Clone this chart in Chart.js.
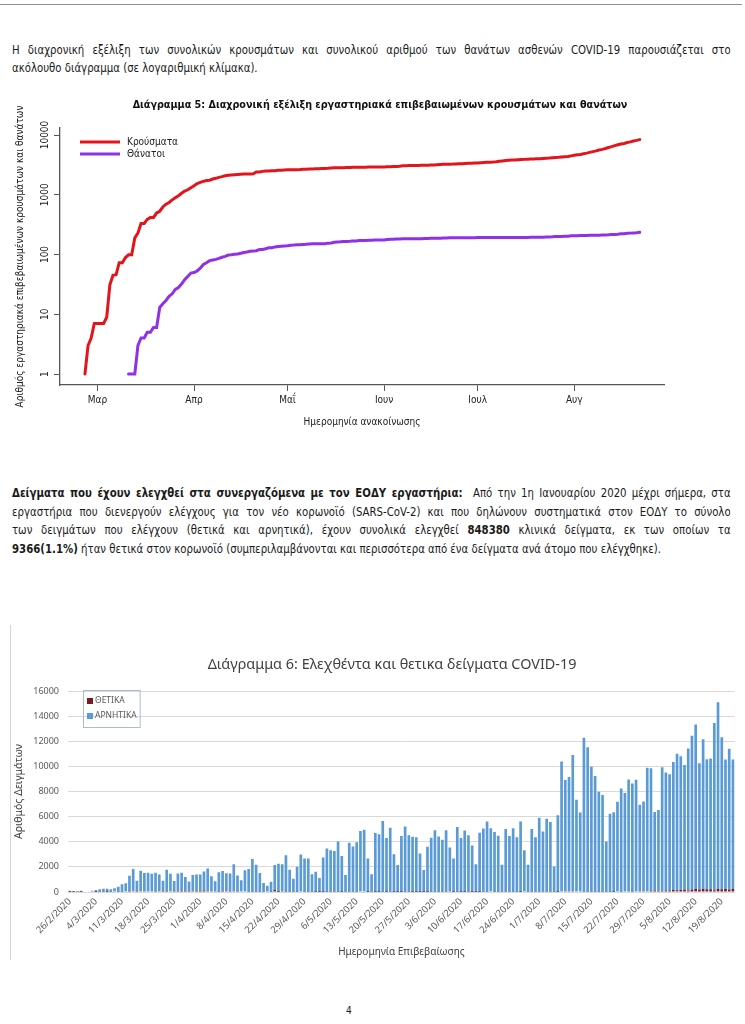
<!DOCTYPE html>
<html>
<head>
<meta charset="utf-8">
<script src="https://cdn.jsdelivr.net/npm/chart.js@4.4.1/dist/chart.umd.min.js"></script>
<style>
  body { margin: 0; width: 745px; height: 1024px; background: #fff; position: relative; overflow: hidden;
         font-family: "Liberation Sans Narrow", "DejaVu Sans Condensed", "Liberation Sans", sans-serif; color: #1a1a1a; }
  .rule { position: absolute; left: 0; top: 4px; width: 742px; height: 1px; background: #8c8c8c; }
  .par { position: absolute; left: 12px; width: 826px; transform: scaleX(0.87); transform-origin: 0 0; }
  .par div { white-space: nowrap; overflow: hidden; }
  .j { text-align: justify; text-align-last: justify; }
  #p1 div { height: 18px; line-height: 18px; }
  #p2 div { height: 18.7px; line-height: 18.7px; }
  #t1 { position: absolute; left: 130px; width: 500px; top: 98px; text-align: center; font-weight: bold; font-size: 10.7px; color: #111; white-space: nowrap; }
  #c1 { position: absolute; left: 0; top: 95px; }
  #frame2 { position: absolute; left: 10px; top: 625px; width: 1px; height: 335px; background: #d6d6d6; }
  #t2 { position: absolute; left: 192px; width: 400px; top: 654px; text-align: center; font-family: "Noto Sans", "Open Sans", sans-serif;
        font-size: 14.4px; color: #404040; white-space: nowrap; }
  #c2 { position: absolute; left: 10px; top: 625px; }
  #page { position: absolute; left: 346px; top: 1005px; font-size: 10px; }
</style>
</head>
<body>
<div class="rule"></div>

<div class="par" id="p1" style="top:41px">
  <div class="j">Η διαχρονική εξέλιξη των συνολικών κρουσμάτων και συνολικού αριθμού των θανάτων ασθενών COVID-19 παρουσιάζεται στο</div>
  <div>ακόλουθο διάγραμμα (σε λογαριθμική κλίμακα).</div>
</div>

<canvas id="c1" width="745" height="345"></canvas>
<div id="t1">Διάγραμμα 5: Διαχρονική εξέλιξη εργαστηριακά επιβεβαιωμένων κρουσμάτων και θανάτων</div>

<div class="par" id="p2" style="top:484px">
  <div class="j"><b>Δείγματα που έχουν ελεγχθεί στα συνεργαζόμενα με τον ΕΟΔΥ εργαστήρια:</b>&nbsp; Από την 1η Ιανουαρίου 2020 μέχρι σήμερα, στα</div>
  <div class="j">εργαστήρια που διενεργούν ελέγχους για τον νέο κορωνοϊό (SARS-CoV-2) και που δηλώνουν συστηματικά στον ΕΟΔΥ το σύνολο</div>
  <div class="j">των δειγμάτων που ελέγχουν (θετικά και αρνητικά), έχουν συνολικά ελεγχθεί <b>848380</b> κλινικά δείγματα, εκ των οποίων τα</div>
  <div><b>9366(1.1%)</b> ήταν θετικά στον κορωνοϊό (συμπεριλαμβάνονται και περισσότερα από ένα δείγματα ανά άτομο που ελέγχθηκε).</div>
</div>

<div id="frame2"></div>
<canvas id="c2" width="735" height="340"></canvas>
<div id="t2">Διάγραμμα 6: Ελεχθέντα και θετικα δείγματα COVID-19</div>

<div id="page">4</div>

<script>
// ---- fit the body text lines ----
const lines = document.querySelectorAll('.par div');
let size = 13;
const setSize = s => lines.forEach(el => el.style.fontSize = s + 'px');
setSize(size);
while (size > 8 && Array.from(lines).some(el => el.scrollWidth > el.clientWidth + 0.5)) {
  size -= 0.25;
  setSize(size);
}
lines.forEach(el => el.style.whiteSpace = 'normal');

const docFont = '"Liberation Sans Narrow", "DejaVu Sans Condensed", "Liberation Sans", sans-serif';
const xlFont = '"Noto Sans", "Open Sans", sans-serif';

// ---- Διάγραμμα 5: cumulative cases and deaths, 26/2 .. 22/8 ----
const firstDay = -4; // 26 Feb, days counted from 1 Mar
const cumulativeCases = [
  1, 3, 4, 7,
  7, 7, 7, 9, 31, 45, 46, 73, 73, 89, 99, 99, 190, 228, 331, 331, 387, 418, 418, 495, 530, 624, 695, 743, 821, 892, 966, 1061, 1156, 1212, 1314,
  1415, 1544, 1613, 1673, 1735, 1755, 1832, 1884, 1955, 2011, 2081, 2114, 2145, 2170, 2192, 2207, 2224, 2235, 2235, 2245, 2401, 2408, 2463, 2490, 2506, 2517, 2534, 2566, 2576, 2591,
  2612, 2620, 2626, 2632, 2642, 2663, 2678, 2691, 2710, 2716, 2726, 2744, 2760, 2770, 2810, 2819, 2834, 2836, 2840, 2850, 2853, 2874, 2876, 2878, 2882, 2892, 2903, 2906, 2909, 2915, 2917,
  2918, 2937, 2952, 2967, 2980, 2997, 3049, 3058, 3083, 3088, 3089, 3102, 3108, 3112, 3121, 3134, 3148, 3178, 3203, 3227, 3237, 3256, 3266, 3287, 3302, 3310, 3343, 3366, 3376, 3390,
  3409, 3432, 3458, 3486, 3511, 3519, 3562, 3622, 3672, 3732, 3772, 3803, 3826, 3854, 3883, 3910, 3939, 3964, 3983, 4007, 4012, 4048, 4077, 4110, 4166, 4193, 4227, 4279, 4336, 4378, 4477,
  4587, 4662, 4737, 4855, 4973, 5123, 5270, 5421, 5623, 5749, 5942, 6177, 6381, 6632, 6858, 7075, 7222, 7472, 7684, 7931, 8135, 8381
];
const cumulativeDeaths = [
  null, null, null, null,
  null, null, null, null, null, null, null, null, null, null,
  1, 1, 1, 3, 4, 4, 5, 5, 6, 6, 13, 15, 17, 20, 22, 26, 28, 32, 38, 43, 49,
  50, 53, 59, 68, 73, 79, 81, 83, 86, 90, 93, 98, 99, 101, 102, 105, 108, 110, 113, 114, 116, 121, 121, 125, 130, 130, 134, 136, 138, 139,
  140, 143, 144, 146, 146, 147, 148, 150, 151, 151, 151, 151, 152, 155, 156, 160, 162, 163, 165, 165, 166, 168, 169, 171, 171, 172, 173, 173, 175, 175, 175,
  175, 179, 180, 180, 182, 182, 183, 183, 183, 183, 183, 183, 184, 185, 186, 187, 187, 188, 188, 189, 189, 190, 190, 190, 190, 190, 190, 190, 191, 191,
  192, 192, 192, 192, 192, 192, 192, 192, 192, 192, 193, 193, 193, 193, 193, 193, 193, 194, 194, 194, 194, 195, 196, 197, 198, 200, 201, 201, 202, 203, 206,
  206, 207, 208, 209, 209, 210, 210, 210, 211, 212, 213, 214, 216, 217, 219, 222, 223, 226, 228, 230, 232, 235
];
const monthTickDays = [0, 31, 61, 92, 122, 153];
const monthLabels = ['Μαρ', 'Απρ', 'Μαΐ', 'Ιουν', 'Ιουλ', 'Αυγ'];
const logTicks = [1, 10, 100, 1000, 10000];

const toPoints = arr => arr.map((v, i) => ({ x: firstDay + i, y: v }));

// draws a legend in the plot corner
function cornerLegend(o) {
  return {
    id: 'cornerLegend',
    afterDraw(chart) {
      const ctx = chart.ctx, a = chart.chartArea;
      ctx.save();
      ctx.font = o.font;
      ctx.textBaseline = 'middle';
      let maxRight = 0;
      chart.data.datasets.forEach((ds, i) => {
        const y = a.top + o.dy + i * o.gap;
        const x = a.left + o.dx;
        ctx.fillStyle = o.line ? ds.borderColor : ds.backgroundColor;
        if (o.line) ctx.fillRect(x, y - 1.5, o.w, 3);
        else ctx.fillRect(x, y - o.w / 2, o.w, o.w);
        ctx.fillStyle = o.color;
        const tx = x + o.w + o.tx;
        ctx.fillText(ds.label, tx, y);
        maxRight = Math.max(maxRight, tx + ctx.measureText(ds.label).width);
      });
      if (o.box) {
        ctx.strokeStyle = o.box;
        ctx.lineWidth = 1;
        const bx = a.left + o.dx - 4, by = a.top + o.dy - 11;
        ctx.strokeRect(bx + 0.5, by + 0.5, maxRight + 3 - bx, (chart.data.datasets.length - 1) * o.gap + 22);
      }
      ctx.restore();
    }
  };
}

const rotatedYLabels = {
  id: 'rotatedYLabels',
  afterDraw(chart) {
    const ctx = chart.ctx, y = chart.scales.y;
    ctx.save();
    ctx.font = '10px ' + docFont;
    ctx.fillStyle = '#222';
    ctx.textAlign = 'center';
    ctx.textBaseline = 'middle';
    logTicks.forEach(v => {
      ctx.save();
      ctx.translate(y.left + 45, y.getPixelForValue(v));
      ctx.rotate(-Math.PI / 2);
      ctx.fillText(String(v), 0, 0);
      ctx.restore();
    });
    ctx.restore();
  }
};

new Chart(document.getElementById('c1'), {
  type: 'line',
  data: {
    datasets: [
      { label: 'Κρούσματα', data: toPoints(cumulativeCases), borderColor: '#e3141b', borderWidth: 3, pointRadius: 0, borderCapStyle: 'round' },
      { label: 'Θάνατοι', data: toPoints(cumulativeDeaths), borderColor: '#9130e4', borderWidth: 3, pointRadius: 0, borderCapStyle: 'round' }
    ]
  },
  options: {
    responsive: false,
    animation: false,
    layout: { padding: { left: 0, right: 81, top: 33, bottom: 0 } },
    plugins: { legend: { display: false }, tooltip: { enabled: false } },
    scales: {
      x: {
        type: 'linear',
        min: -12,
        max: 181.8,
        afterBuildTicks: s => { s.ticks = monthTickDays.map(v => ({ value: v })); },
        afterFit: s => { s.height = 55; },
        ticks: {
          autoSkip: false, maxRotation: 0, padding: 3,
          font: { family: docFont, size: 10 }, color: '#222',
          callback: v => monthLabels[monthTickDays.indexOf(v)]
        },
        grid: { drawOnChartArea: false, tickLength: 6, color: '#555' },
        border: { color: '#555', width: 1.3 },
        title: { display: true, text: 'Ημερομηνία ανακοίνωσης', font: { family: docFont, size: 10 }, color: '#222', padding: { top: 0, bottom: 12 } }
      },
      y: {
        type: 'logarithmic',
        min: 0.655,
        max: 13100,
        afterBuildTicks: s => { s.ticks = logTicks.map(v => ({ value: v })); },
        afterFit: s => { s.width = 60; },
        ticks: { display: false },
        grid: { drawOnChartArea: false, tickLength: 6, color: '#555' },
        border: { color: '#555', width: 1.3 },
        title: {
          display: true,
          text: 'Αριθμός εργαστηριακά επιβεβαιωμένων κρουσμάτων και θανάτων',
          font: { family: docFont, size: 10 }, color: '#222',
          padding: { top: 14, bottom: 0 }
        }
      }
    }
  },
  plugins: [rotatedYLabels, cornerLegend({ font: '10px ' + docFont, color: '#222', dx: 20, dy: 14, gap: 12, w: 40, tx: 7, line: true })]
});

// ---- Διάγραμμα 6: tested samples per day, 26/2 .. 22/8 ----
const negativeSamples = [
  100, 50, 0, 100, 0, 0, 100, 150, 200, 250, 250, 200, 300, 400, 600, 700,
  1200, 1800, 800, 1700, 1450, 1500, 1450, 1450, 1350, 800, 1700, 1400, 800, 1400, 1450, 1100, 750,
  1300, 1300, 1300, 1500, 1800, 1200, 800, 1550, 1600, 1450, 1400, 2150, 1250, 900, 1700, 1800, 2600, 2150,
  1500, 700, 500, 800, 2000, 2250, 2150, 2900, 1750, 1050, 2000, 2950, 2650, 2650, 1400, 1600, 1100, 2750, 3450, 3300,
  3250, 4000, 2850, 1350, 3900, 3600, 3950, 4800, 4950, 2650, 1400, 4700, 4600, 5650, 4300, 5100, 3000, 2150,
  4450, 5200, 4500, 4400, 4350, 3050, 1750, 3600, 4300, 4900, 4400, 4150, 4900, 3500, 2650, 5150, 4300, 4900,
  4500, 3700, 2200, 4700, 5050, 5600, 5050, 4750, 4450, 2150, 5000, 4450, 5050, 4350, 5600, 3300, 2150, 5000,
  4350, 5900, 4800, 5800, 5550, 2000, 6100, 10350, 8850, 9100, 10850, 7300, 6300, 12250, 11500, 9950, 9200, 7950,
  7700, 4000, 6200, 6350, 7150, 8200, 7850, 8900, 8600, 8900, 6900, 7150, 9850, 9750, 6250, 6450, 9850, 9400,
  9250, 10200, 10850, 10650, 9900, 11300, 12250, 13100, 10050, 11900, 10350, 10400, 13300, 14850, 12100, 10300, 11200, 10300
];
const positiveSamples = [
  1, 2, 1, 3,
  0, 0, 0, 2, 22, 14, 1, 27, 0, 16, 10, 0, 91, 38, 103, 0, 56, 31, 0, 77, 35, 94, 71, 48, 78, 71, 74, 95, 95, 56, 102,
  101, 129, 69, 60, 62, 20, 77, 52, 71, 56, 70, 33, 31, 25, 22, 15, 17, 11, 0, 10, 156, 7, 55, 27, 16, 11, 17, 32, 10, 15,
  21, 8, 6, 6, 10, 15, 13, 19, 6, 10, 18, 16, 10, 49, 0, 9, 15, 2, 4, 10, 3, 21, 2, 2, 4, 10, 11, 3, 3, 6, 2,
  1, 19, 15, 15, 13, 17, 52, 9, 25, 5, 1, 13, 6, 4, 9, 13, 14, 30, 25, 24, 10, 19, 10, 21, 15, 8, 33, 23, 10, 14,
  19, 23, 26, 28, 25, 8, 43, 60, 50, 60, 40, 31, 23, 28, 29, 27, 29, 25, 19, 24, 5, 36, 29, 33, 56, 27, 34, 52, 57, 42, 99,
  110, 75, 75, 118, 118, 150, 147, 151, 202, 126, 193, 235, 204, 251, 226, 217, 147, 250, 212, 247, 204, 246
];
const sampleDates = negativeSamples.map((_, i) => {
  const d = new Date(2020, 1, 26 + i);
  return d.getDate() + '/' + (d.getMonth() + 1) + '/' + d.getFullYear();
});
const weekStep = 7;

new Chart(document.getElementById('c2'), {
  type: 'bar',
  data: {
    labels: sampleDates,
    datasets: [
      { label: 'ΘΕΤΙΚΑ', data: positiveSamples, backgroundColor: '#7a1b1f', stack: 's' },
      { label: 'ΑΡΝΗΤΙΚΑ', data: negativeSamples, backgroundColor: '#5b9bd5', stack: 's' }
    ]
  },
  options: {
    responsive: false,
    animation: false,
    datasets: { bar: { barPercentage: 0.72, categoryPercentage: 1 } },
    layout: { padding: { left: 0, right: 3, top: 66, bottom: 0 } },
    plugins: { legend: { display: false }, tooltip: { enabled: false } },
    scales: {
      x: {
        stacked: true,
        afterFit: s => { s.height = 73; },
        grid: { display: false, drawTicks: false },
        border: { color: '#d9d9d9' },
        ticks: {
          autoSkip: false, minRotation: 45, maxRotation: 45, padding: 4,
          font: { family: xlFont, size: 9.5 }, color: '#595959',
          callback: function (v, i) { return i % weekStep === 0 ? this.getLabelForValue(v) : ''; }
        },
        title: { display: true, text: 'Ημερομηνία Επιβεβαίωσης', font: { family: xlFont, size: 10 }, color: '#404040', padding: { top: 0, bottom: 7 } }
      },
      y: {
        stacked: true,
        min: 0,
        max: 16000,
        afterFit: s => { s.width = 58; },
        ticks: { stepSize: 2000, padding: 9, font: { family: xlFont, size: 9 }, color: '#595959', callback: v => String(v) },
        grid: { color: '#d9d9d9', drawTicks: false },
        border: { display: false },
        title: { display: true, text: 'Αριθμός Δειγμάτων', font: { family: xlFont, size: 10.5 }, color: '#404040', padding: { top: 3, bottom: 0 } }
      }
    }
  },
  plugins: [cornerLegend({ font: '8.5px ' + xlFont, color: '#595959', dx: 19, dy: 10, gap: 15, w: 6, tx: 2, box: '#a9bcd3' })]
});
</script>
</body>
</html>
